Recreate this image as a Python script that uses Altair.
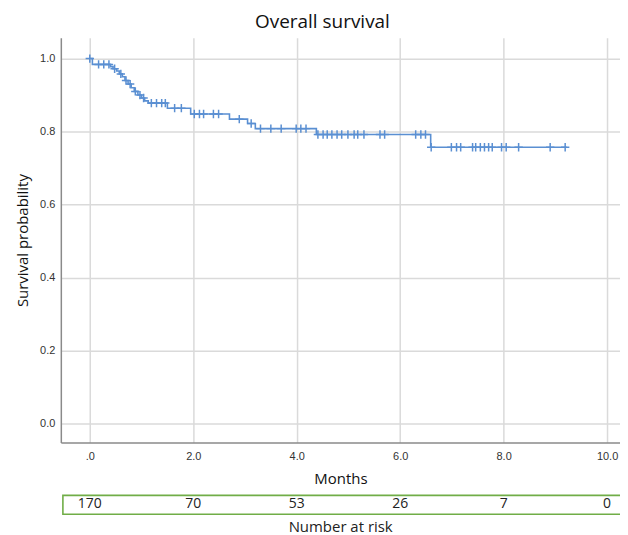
import altair as alt
import pandas as pd
import numpy as np

# Kaplan-Meier step points (time in months, survival after the step)
step_t = [0.00, 0.05, 0.40, 0.45, 0.52, 0.57, 0.63, 0.68, 0.74, 0.80, 0.86, 0.93,
          1.00, 1.06, 1.13, 1.50, 1.95, 2.70, 3.05, 3.20, 4.38, 6.59, 9.22]
step_s = [1.000, 0.984, 0.978, 0.972, 0.966, 0.958, 0.950, 0.940, 0.930, 0.920, 0.910, 0.900,
          0.892, 0.884, 0.878, 0.864, 0.848, 0.834, 0.822, 0.808, 0.792, 0.757, 0.757]

# censoring marks (months)
censor_t = [0.0, 0.17, 0.27, 0.37, 0.48, 0.60, 0.70, 0.78, 0.88, 0.97, 1.04, 1.19, 1.29,
            1.39, 1.46, 1.64, 1.77, 2.02, 2.12, 2.20, 2.39, 2.49, 2.89, 3.12, 3.30, 3.50,
            3.70, 3.99, 4.08, 4.18, 4.41, 4.51, 4.59, 4.68, 4.78, 4.87, 4.99, 5.11, 5.18,
            5.30, 5.61, 5.70, 6.30, 6.40, 6.49, 6.60, 6.99, 7.09, 7.17, 7.40, 7.46, 7.55,
            7.63, 7.71, 7.78, 7.96, 8.05, 8.29, 8.90, 9.19]

# number at risk
risk_t = [0, 2, 4, 6, 8, 10]
risk_n = ["170", "70", "53", "26", "7", "0"]

BLUE = "#5a8fd2"
GREEN = "#70ad47"

st = np.array(step_t)
ss = np.array(step_s)
cens_s = [float(ss[np.searchsorted(st, t, side="right") - 1]) for t in censor_t]

curve = pd.DataFrame({"t": step_t, "s": step_s})
cens = pd.DataFrame({"t": censor_t, "s": cens_s})
risk = pd.DataFrame({"t": risk_t, "n": risk_n, "y": [-0.221] * len(risk_t)})
box = pd.DataFrame({"x": [-0.52], "x2": [10.6], "y": [-0.197], "y2": [-0.249]})
risk_title = pd.DataFrame({"t": [4.85], "y": [-0.284], "label": ["Number at risk"]})

xscale = alt.Scale(domain=[-0.56, 10.25], nice=False, zero=False)
yscale = alt.Scale(domain=[-0.052, 1.057], nice=False, zero=False)

xaxis = alt.Axis(values=[0, 2, 4, 6, 8, 10],
                 labelExpr="datum.value == 0 ? '.0' : format(datum.value, '.1f')",
                 title="Months", grid=True, ticks=False, labelPadding=8, titlePadding=10)
yaxis = alt.Axis(values=[0, 0.2, 0.4, 0.6, 0.8, 1.0], format=".1f",
                 title="Survival probability", grid=True, ticks=False,
                 labelPadding=6, titlePadding=9)

line = alt.Chart(curve).mark_line(interpolate="step-after", color=BLUE, strokeWidth=1.6).encode(
    x=alt.X("t:Q", scale=xscale, axis=xaxis),
    y=alt.Y("s:Q", scale=yscale, axis=yaxis),
    order="t:Q",
)

marks = alt.Chart(cens).mark_point(
    shape="M-1,0L1,0M0,-1L0,1", size=70, filled=False, color=BLUE, strokeWidth=1.5, opacity=1
).encode(x=alt.X("t:Q", scale=xscale), y=alt.Y("s:Q", scale=yscale))

boxl = alt.Chart(box).mark_rect(fillOpacity=0, stroke=GREEN, strokeWidth=1.6).encode(
    x=alt.X("x:Q", scale=xscale), x2="x2:Q",
    y=alt.Y("y:Q", scale=yscale), y2="y2:Q",
)

risk_text = alt.Chart(risk).mark_text(fontSize=14, font="Open Sans", color="#222").encode(
    x=alt.X("t:Q", scale=xscale), y=alt.Y("y:Q", scale=yscale), text="n:N"
)

rt = alt.Chart(risk_title).mark_text(fontSize=15, font="Open Sans", color="#222").encode(
    x=alt.X("t:Q", scale=xscale), y=alt.Y("y:Q", scale=yscale), text="label:N"
)

chart = alt.layer(line, marks, boxl, risk_text, rt).properties(
    width=561, height=406,
    title=alt.TitleParams("Overall survival", fontSize=19, font="Open Sans", fontWeight="normal",
                          color="#111", dx=-18, offset=6),
    autosize=alt.AutoSizeParams(type="none"),
    padding={"left": 53, "top": 29, "right": 0, "bottom": 92},
).configure_view(stroke=None).configure_axis(
    domainColor="#8a8a8a", domainWidth=1.5, gridColor="#dadada", gridWidth=1.5,
    labelFont="Liberation Sans", labelFontSize=11, labelColor="#333",
    titleFont="Open Sans", titleFontSize=15, titleFontWeight="normal", titleColor="#111",
)

chart.save("out.html", embed_options={"renderer": "svg", "actions": False})
